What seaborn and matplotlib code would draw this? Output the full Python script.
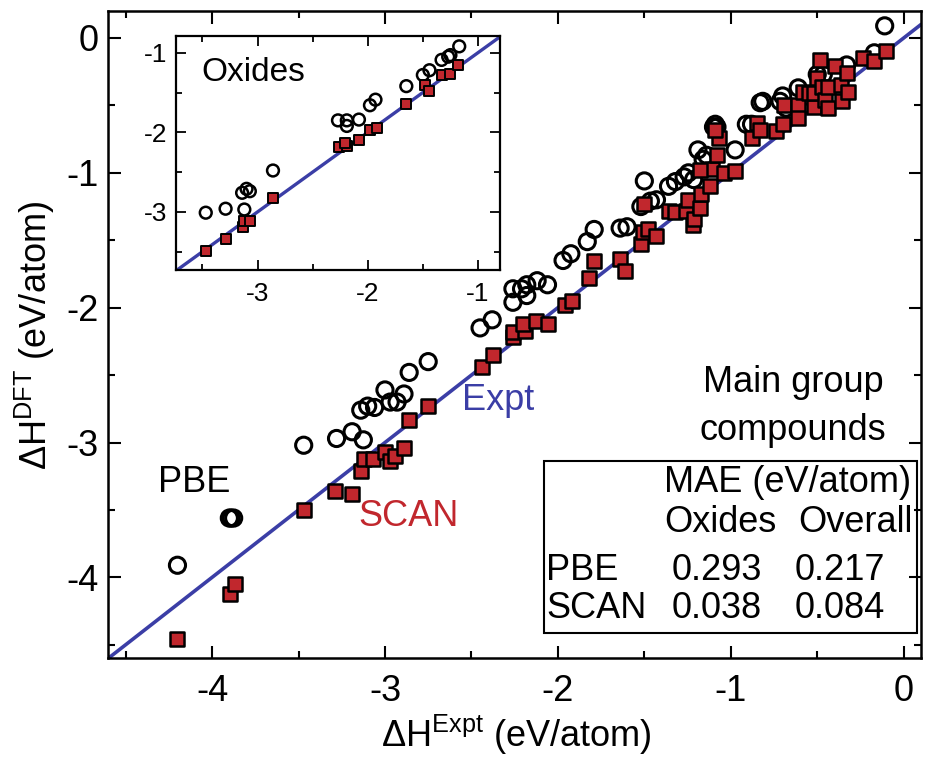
import matplotlib
matplotlib.use("Agg")
import matplotlib.pyplot as plt
import seaborn as sns
import pandas as pd
from matplotlib.ticker import MultipleLocator
from matplotlib.patches import Rectangle

# ---------------- data ----------------
pbe_expt = [-4.20, -3.90, -3.89, -3.875, -3.47, -3.28, -3.19, -3.125, -3.14, -3.10,
            -3.06, -3.00, -2.97, -2.93, -2.89, -2.86, -2.75, -2.45, -2.38, -2.26,
            -2.26, -2.21, -2.18, -2.18, -2.12, -2.06, -1.97, -1.925, -1.83, -1.79,
            -1.64, -1.60, -1.52, -1.465, -1.43, -1.50, -1.36, -1.32, -1.27, -1.245,
            -1.215, -1.19, -1.14, -1.16, -1.09, -1.08, -1.10, -0.975, -0.88, -0.91,
            -0.83, -0.815, -0.715, -0.68, -0.70, -0.61, -0.56, -0.50, -0.465, -0.33,
            -0.17, -0.11]
pbe_dft = [-3.91, -3.56, -3.56, -3.56, -3.02, -2.97, -2.92, -2.98, -2.76, -2.73,
           -2.74, -2.61, -2.70, -2.70, -2.64, -2.48, -2.40, -2.15, -2.09, -1.96,
           -1.86, -1.86, -1.91, -1.83, -1.80, -1.83, -1.65, -1.60, -1.51, -1.42,
           -1.41, -1.40, -1.25, -1.21, -1.20, -1.06, -1.10, -1.065, -1.03, -1.00,
           -1.05, -0.83, -0.87, -0.90, -0.64, -0.66, -0.66, -0.83, -0.64, -0.64,
           -0.48, -0.47, -0.47, -0.52, -0.43, -0.37, -0.43, -0.27, -0.27, -0.20,
           -0.11, 0.09]

scan_expt = [-4.20, -3.895, -3.87, -3.47, -3.29, -3.19, -3.14, -3.12, -3.07, -3.00,
             -2.97, -2.94, -2.89, -2.86, -2.75, -2.44, -2.375, -2.26, -2.26, -2.19,
             -2.20, -2.125, -2.06, -1.96, -1.92, -1.82, -1.79, -1.64, -1.61, -1.52,
             -1.51, -1.48, -1.43, -1.50, -1.36, -1.32, -1.26, -1.25, -1.22, -1.21,
             -1.18, -1.17, -1.12, -1.11, -1.18, -1.04, -0.975, -1.08, -1.07, -1.09,
             -0.88, -0.85, -0.83, -0.74, -0.70, -0.69, -0.61, -0.61, -0.58, -0.55,
             -0.52, -0.52, -0.50, -0.485, -0.47, -0.455, -0.44, -0.44, -0.40, -0.36,
             -0.355, -0.33, -0.32, -0.235, -0.17, -0.10]
scan_dft = [-4.46, -4.12, -4.05, -3.50, -3.36, -3.38, -3.21, -3.12, -3.12, -3.07,
            -3.14, -3.10, -3.04, -2.83, -2.73, -2.44, -2.35, -2.22, -2.18, -2.17,
            -2.12, -2.10, -2.12, -1.98, -1.95, -1.78, -1.655, -1.64, -1.73, -1.53,
            -1.44, -1.42, -1.47, -1.23, -1.28, -1.29, -1.28, -1.20, -1.39, -1.345,
            -1.26, -1.16, -1.095, -0.97, -0.98, -1.00, -0.99, -0.87, -0.74, -0.68,
            -0.74, -0.63, -0.68, -0.69, -0.64, -0.50, -0.50, -0.59, -0.40, -0.41,
            -0.51, -0.41, -0.30, -0.16, -0.36, -0.46, -0.36, -0.52, -0.21, -0.35,
            -0.47, -0.26, -0.40, -0.15, -0.17, -0.10]

# oxides subset (inset)
ox_pbe_expt = [-3.47, -3.29, -3.12, -3.14, -3.10, -3.07, -2.86, -2.27, -2.19, -2.19,
               -2.08, -1.98, -1.93, -1.65, -1.50, -1.44, -1.33, -1.27, -1.25, -1.17]
ox_pbe_dft = [-3.01, -2.96, -2.97, -2.76, -2.71, -2.74, -2.48, -1.85, -1.85, -1.92,
              -1.84, -1.66, -1.59, -1.42, -1.28, -1.22, -1.09, -1.05, -1.03, -0.92]
ox_scan_expt = [-3.47, -3.29, -3.13, -3.12, -3.07, -2.86, -2.26, -2.19, -2.21, -2.08,
                -1.98, -1.92, -1.65, -1.48, -1.44, -1.33, -1.25, -1.18]
ox_scan_dft = [-3.49, -3.34, -3.19, -3.11, -3.11, -2.83, -2.18, -2.17, -2.13, -2.10,
               -1.97, -1.95, -1.64, -1.41, -1.48, -1.28, -1.27, -1.16]

main_ticks = [-4, -3, -2, -1, 0]
main_tick_labels = ["-4", "-3", "-2", "-1", "0"]
inset_ticks = [-3, -2, -1]
inset_tick_labels = ["-3", "-2", "-1"]

table_methods = ["PBE", "SCAN"]
mae_oxides = ["0.293", "0.038"]
mae_overall = ["0.217", "0.084"]

# ---------------- style ----------------
sns.set_theme(style="ticks")
plt.rcParams["font.family"] = ["Liberation Sans", "DejaVu Sans"]
plt.rcParams["mathtext.fontset"] = "custom"
plt.rcParams["mathtext.rm"] = "Liberation Sans"
plt.rcParams["mathtext.it"] = "Liberation Sans:italic"
plt.rcParams["mathtext.bf"] = "Liberation Sans:bold"
plt.rcParams["axes.unicode_minus"] = False
plt.rcParams["text.color"] = "black"
plt.rcParams["axes.labelcolor"] = "black"
plt.rcParams["xtick.color"] = "black"
plt.rcParams["ytick.color"] = "black"

RED = "#c1272d"
BLUE = "#3b3ea6"
W, H = 936, 761

fig = plt.figure(figsize=(W / 100, H / 100), dpi=100)
fig.patch.set_facecolor("white")

L, R, T, B = 108.3, 921.0, 11.0, 658.3
ax = fig.add_axes([L / W, 1 - B / H, (R - L) / W, (B - T) / H])
ax.set_facecolor("white")

pbe_df = pd.DataFrame({"expt": pbe_expt, "dft": pbe_dft})
scan_df = pd.DataFrame({"expt": scan_expt, "dft": scan_dft})

ax.axline((0, 0), (1, 1), color=BLUE, lw=2.6, zorder=1)
sns.scatterplot(data=pbe_df, x="expt", y="dft", ax=ax, marker="o", s=135,
                facecolors="none", edgecolor="black", linewidth=2.2, zorder=3)
sns.scatterplot(data=scan_df, x="expt", y="dft", ax=ax, marker="s", s=100,
                color=RED, edgecolor="black", linewidth=1.8, zorder=4)

ax.set_xlim(-4.6, 0.1)
ax.set_ylim(-4.6, 0.2)
ax.set_xticks(main_ticks, main_tick_labels)
ax.set_yticks(main_ticks, main_tick_labels)
ax.xaxis.set_minor_locator(MultipleLocator(0.5))
ax.yaxis.set_minor_locator(MultipleLocator(0.5))
ax.tick_params(which="both", direction="in", top=True, right=True, width=1.5,
               color="black", labelsize=26, labelcolor="black")
ax.tick_params(which="major", length=9)
ax.tick_params(which="minor", length=5)
ax.tick_params(axis="x", pad=11)
ax.tick_params(axis="y", pad=7)
for sp in ax.spines.values():
    sp.set_linewidth(1.8)
    sp.set_color("black")
ax.set_xlabel("")
ax.set_ylabel("")

fig.text(516 / W, 1 - 735 / H, r"ΔH$^{\mathrm{Expt}}$ (eV/atom)", ha="center",
         va="center", fontsize=26, color="black")
fig.text(35 / W, 1 - 335 / H, r"ΔH$^{\mathrm{DFT}}$ (eV/atom)", ha="center",
         va="center", fontsize=26, rotation=90, color="black")


def ftext(xp, yp, s, **kw):
    kw.setdefault("color", "black")
    fig.text(xp / W, 1 - yp / H, s, **kw)


ftext(498, 401, "Expt", color=BLUE, fontsize=26, ha="center", va="center")
ftext(409, 517, "SCAN", color=RED, fontsize=26, ha="center", va="center")
ftext(194, 482, "PBE", fontsize=26, ha="center", va="center")
ftext(793, 383, "Main group", fontsize=26, ha="center", va="center")
ftext(793, 430, "compounds", fontsize=26, ha="center", va="center")

# table box
bx0, bx1, by0, by1 = 544, 916.7, 460.7, 633.3
fig.patches.append(Rectangle((bx0 / W, 1 - by1 / H), (bx1 - bx0) / W, (by1 - by0) / H,
                             transform=fig.transFigure, fill=False, edgecolor="black",
                             linewidth=1.5, zorder=10))
ftext(788, 483, "MAE (eV/atom)", fontsize=26, ha="center", va="center")
ftext(720, 522, "Oxides", fontsize=26, ha="center", va="center")
ftext(855, 522, "Overall", fontsize=26, ha="center", va="center")
row_y = [570, 609]
for m, o, a, yy in zip(table_methods, mae_oxides, mae_overall, row_y):
    ftext(546, yy, m, fontsize=26, ha="left", va="center")
    ftext(717, yy, o, fontsize=26, ha="center", va="center")
    ftext(840, yy, a, fontsize=26, ha="center", va="center")

# ---------------- inset ----------------
iL, iR, iT, iB = 176, 500, 36, 270
axi = fig.add_axes([iL / W, 1 - iB / H, (iR - iL) / W, (iB - iT) / H])
axi.set_facecolor("white")
ox_pbe_df = pd.DataFrame({"expt": ox_pbe_expt, "dft": ox_pbe_dft})
ox_scan_df = pd.DataFrame({"expt": ox_scan_expt, "dft": ox_scan_dft})
axi.axline((0, 0), (1, 1), color=BLUE, lw=2.4, zorder=1)
sns.scatterplot(data=ox_pbe_df, x="expt", y="dft", ax=axi, marker="o", s=72,
                facecolors="none", edgecolor="black", linewidth=1.8, zorder=3)
sns.scatterplot(data=ox_scan_df, x="expt", y="dft", ax=axi, marker="s", s=56,
                color=RED, edgecolor="black", linewidth=1.4, zorder=4)
axi.set_xlim(-3.74, -0.80)
axi.set_ylim(-3.73, -0.79)
axi.set_xticks(inset_ticks, inset_tick_labels)
axi.set_yticks(inset_ticks, inset_tick_labels)
axi.xaxis.set_minor_locator(MultipleLocator(0.5))
axi.yaxis.set_minor_locator(MultipleLocator(0.5))
axi.tick_params(which="both", direction="in", top=True, right=True, width=1.3,
                color="black", labelsize=19, labelcolor="black")
axi.tick_params(which="major", length=7)
axi.tick_params(which="minor", length=4.5)
axi.tick_params(axis="x", pad=9)
axi.tick_params(axis="y", pad=6)
for sp in axi.spines.values():
    sp.set_linewidth(1.6)
    sp.set_color("black")
axi.set_xlabel("")
axi.set_ylabel("")
axi.text(0.238, 0.845, "Oxides", transform=axi.transAxes, fontsize=24,
         ha="center", va="center", color="black")

fig.savefig("out.png", dpi=100, facecolor="white")
